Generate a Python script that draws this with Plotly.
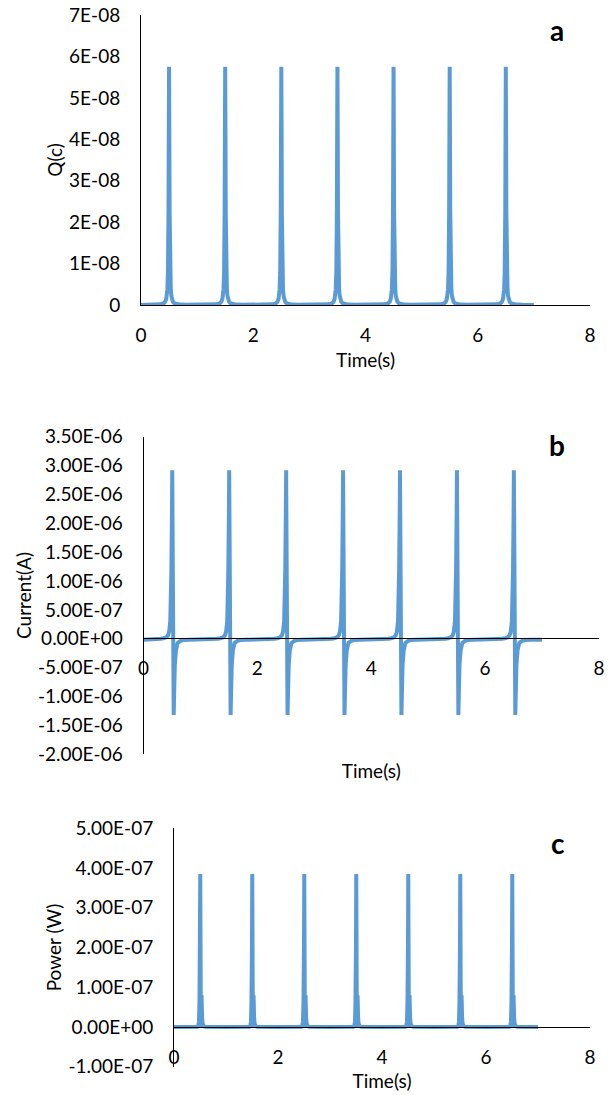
import plotly.graph_objects as go

# ---------------- data ----------------
peak_times = [0.5, 1.5, 2.5, 3.5, 4.5, 5.5, 6.5]
t_end = 7.0

# pulse profile: time offset from each peak time (s)
q_offsets = [-0.5, -0.3, -0.2, -0.15, -0.1, -0.07, -0.05, -0.04, -0.03, -0.02, -0.015, -0.01, -0.005,
             0.0, 0.005, 0.01, 0.015, 0.02, 0.03, 0.04, 0.05, 0.07, 0.1, 0.15, 0.2, 0.3]
q_values = [0.0015e-8, 0.0041e-8, 0.0092e-8, 0.0163e-8, 0.0366e-8, 0.074e-8, 0.144e-8, 0.221e-8, 0.382e-8,
            0.793e-8, 1.27e-8, 2.24e-8, 4.13e-8,
            5.75e-8, 4.13e-8, 2.24e-8, 1.27e-8, 0.793e-8, 0.382e-8, 0.221e-8, 0.144e-8, 0.074e-8, 0.0366e-8,
            0.0163e-8, 0.0092e-8, 0.0041e-8]
q_end = 0.0015e-8

i_offsets = [-0.5, -0.3, -0.2, -0.15, -0.1, -0.07, -0.05, -0.03, -0.02, -0.01, 0.0, 0.005,
             0.03, 0.04, 0.05, 0.07, 0.1, 0.15, 0.2, 0.3]
i_values = [-0.015e-6, -0.012e-6, 0.0, 0.01e-6, 0.025e-6, 0.06e-6, 0.12e-6, 0.3e-6, 0.55e-6, 1.2e-6, 2.2e-6, 2.92e-6,
            -1.32e-6, -0.75e-6, -0.45e-6, -0.2e-6, -0.07e-6, -0.035e-6, -0.022e-6, -0.017e-6]
i_end = -0.015e-6

p_offsets = [-0.5, -0.05, -0.03, -0.02, -0.01, 0.0, 0.005, 0.017, 0.03, 0.04, 0.05, 0.07, 0.1, 0.2]
p_values = [0.0, 0.007e-7, 0.04e-7, 0.14e-7, 0.65e-7, 2.18e-7, 3.85e-7, 0.0, 0.8e-7, 0.25e-7, 0.09e-7,
            0.02e-7, 0.004e-7, 0.0]
p_end = 0.0

x_ticks = [0, 2, 4, 6, 8]
q_ticks = [0, 1e-8, 2e-8, 3e-8, 4e-8, 5e-8, 6e-8, 7e-8]
q_tick_text = ["0", "1E-08", "2E-08", "3E-08", "4E-08", "5E-08", "6E-08", "7E-08"]
i_ticks = [-2e-6, -1.5e-6, -1e-6, -5e-7, 0, 5e-7, 1e-6, 1.5e-6, 2e-6, 2.5e-6, 3e-6, 3.5e-6]
i_tick_text = ["-2.00E-06", "-1.50E-06", "-1.00E-06", "-5.00E-07", "0.00E+00", "5.00E-07",
               "1.00E-06", "1.50E-06", "2.00E-06", "2.50E-06", "3.00E-06", "3.50E-06"]
p_ticks = [-1e-7, 0, 1e-7, 2e-7, 3e-7, 4e-7, 5e-7]
p_tick_text = ["-1.00E-07", "0.00E+00", "1.00E-07", "2.00E-07", "3.00E-07", "4.00E-07", "5.00E-07"]


def build(offsets, values, end_value):
    t, v = [], []
    for t0 in peak_times:
        for o, val in zip(offsets, values):
            t.append(round(t0 + o, 4))
            v.append(val)
    t.append(t_end)
    v.append(end_value)
    return t, v


tq, vq = build(q_offsets, q_values, q_end)
ti, vi = build(i_offsets, i_values, i_end)
tp, vp = build(p_offsets, p_values, p_end)

W, H = 609, 1095
BLUE = "#5B9BD5"
FONT = "Lato"
TICKF = dict(family=FONT, size=19, color="#000000")
TITLEF = dict(family=FONT, size=19, color="#000000")


def px_x(x):
    return x / W


def px_y(y):
    return 1 - y / H


fig = go.Figure()
line = dict(color=BLUE, width=4)
fig.add_trace(go.Scatter(x=tq, y=vq, mode="lines", line=line, xaxis="x", yaxis="y", showlegend=False))
fig.add_trace(go.Scatter(x=ti, y=vi, mode="lines", line=line, xaxis="x2", yaxis="y2", showlegend=False))
fig.add_trace(go.Scatter(x=tp, y=vp, mode="lines", line=line, xaxis="x3", yaxis="y3", showlegend=False))

common_x = dict(range=[0, 8], tickvals=x_ticks, showgrid=False, zeroline=False, showline=True,
                linecolor="#000000", linewidth=1, ticks="", tickfont=TICKF, ticklabelstandoff=13,
                automargin=False)
common_y = dict(showgrid=False, zeroline=False, showline=True, linecolor="#000000", linewidth=1,
                ticks="", tickfont=TICKF, ticklabelstandoff=16, automargin=False)

fig.update_layout(
    template="none",
    width=W, height=H, margin=dict(l=0, r=0, t=0, b=0, autoexpand=False),
    paper_bgcolor="white", plot_bgcolor="white", showlegend=False,
    xaxis=dict(common_x, domain=[px_x(141), px_x(590)], anchor="y",
               title=dict(text="Time(s)", font=TITLEF, standoff=8)),
    yaxis=dict(common_y, domain=[px_y(305), px_y(15)], range=[0, 7e-8], tickvals=q_ticks,
               ticktext=q_tick_text, anchor="x", title=dict(text="Q(c)", font=TITLEF, standoff=1)),
    xaxis2=dict(common_x, domain=[px_x(143.5), px_x(599)], anchor="free", position=px_y(638.3),
                title=dict(text="Time(s)", font=TITLEF, standoff=86)),
    yaxis2=dict(common_y, domain=[px_y(754.3), px_y(436.7)], range=[-2e-6, 3.5e-6], tickvals=i_ticks,
                ticktext=i_tick_text, anchor="x2", title=dict(text="Current(A)", font=TITLEF, standoff=1)),
    xaxis3=dict(common_x, domain=[px_x(174), px_x(590)], anchor="free", position=px_y(1026.7),
                title=dict(text="Time(s)", font=TITLEF, standoff=8)),
    yaxis3=dict(common_y, domain=[px_y(1066.7), px_y(828.3)], range=[-1e-7, 5e-7], tickvals=p_ticks,
                ticktext=p_tick_text, anchor="x3", title=dict(text="Power (W)", font=TITLEF, standoff=1)),
)

for letter, x, y in [("a", 557, 30), ("b", 557, 445), ("c", 558, 843)]:
    fig.add_annotation(text=letter, x=px_x(x), y=px_y(y), xref="paper", yref="paper", showarrow=False,
                       xanchor="center", yanchor="middle",
                       font=dict(family=FONT, size=28, color="#000000", weight="bold"))

fig.write_html("out.html")
